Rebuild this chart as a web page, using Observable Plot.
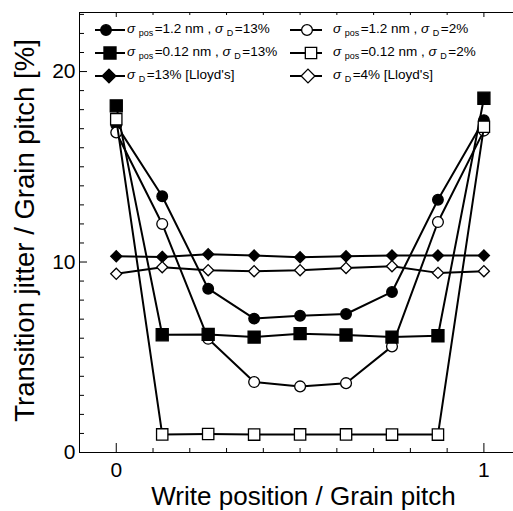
<!DOCTYPE html>
<html><head><meta charset="utf-8">
<script src="https://cdn.jsdelivr.net/npm/d3@7"></script>
<script src="https://cdn.jsdelivr.net/npm/@observablehq/plot@0.6"></script>
<style>html,body{margin:0;padding:0;background:#fff;overflow:hidden}</style>
</head><body><div id="chart"></div>
<script>
// ---- data ----
const positions = [0, 0.125, 0.25, 0.375, 0.5, 0.625, 0.75, 0.875, 1];
const pos12_D13  = [17.2, 13.45, 8.6, 7.03, 7.18, 7.27, 8.43, 13.27, 17.45];
const pos12_D2   = [16.8, 12.0, 5.97, 3.7, 3.47, 3.64, 5.57, 12.1, 16.9];
const pos012_D13 = [18.2, 6.18, 6.2, 6.06, 6.24, 6.17, 6.06, 6.13, 18.6];
const pos012_D2  = [17.5, 0.95, 0.97, 0.94, 0.95, 0.95, 0.94, 0.94, 17.1];
const lloydD13   = [10.3, 10.27, 10.41, 10.34, 10.25, 10.3, 10.34, 10.34, 10.34];
const lloydD4    = [9.38, 9.73, 9.57, 9.52, 9.57, 9.69, 9.78, 9.43, 9.52];
const seriesLabels = [
  "σ_{pos}=1.2 nm , σ_{D}=13%",
  "σ_{pos}=1.2 nm , σ_{D}=2%",
  "σ_{pos}=0.12 nm , σ_{D}=13%",
  "σ_{pos}=0.12 nm , σ_{D}=2%",
  "σ_{D}=13% [Lloyd's]",
  "σ_{D}=4% [Lloyd's]"
];
const xTickValues = [0, 1];
const xMinorTicks = [0.1, 0.2, 0.3, 0.4, 0.5, 0.6, 0.7, 0.8, 0.9];
const yTickValues = [0, 10, 20];
const yMinorTicks = [1,2,3,4,5,6,7,8,9,11,12,13,14,15,16,17,18,19,21,22,23];
const xLabel = "Write position / Grain pitch";
const yLabel = "Transition jitter / Grain pitch [%]";
const xDomain = [-0.1, 1.0805];
const yDomain = [0, 23.1];

// ---- styles ----
const values = [pos12_D13, pos12_D2, pos012_D13, pos012_D2, lloydD13, lloydD4];
const styles = [
  {symbol: "circle",   d3sym: d3.symbolCircle,   fill: "black", r: 5.3, lr: 5.3, col: 0, row: 0, mx: 106},
  {symbol: "circle",   d3sym: d3.symbolCircle,   fill: "white", r: 5.4, lr: 5.4, col: 1, row: 0, mx: 307},
  {symbol: "square",   d3sym: d3.symbolSquare,   fill: "black", r: 6.8, lr: 6.8, col: 0, row: 1, mx: 110},
  {symbol: "square",   d3sym: d3.symbolSquare,   fill: "white", r: 6.4, lr: 6.4, col: 1, row: 1, mx: 311},
  {symbol: "diamond2", d3sym: d3.symbolDiamond2, fill: "black", r: 5.0, lr: 6.2, col: 0, row: 2, mx: 109},
  {symbol: "diamond2", d3sym: d3.symbolDiamond2, fill: "white", r: 5.0, lr: 6.2, col: 1, row: 2, mx: 308}
];
const series = values.map((v, i) => ({
  ...styles[i], label: seriesLabels[i],
  data: positions.map((x, j) => ({x, y: v[j]}))
}));

const W = 513, H = 511, mL = 79, mR = 0, mT = 12, mB = 59;
const plotH = H - mT - mB, plotW = W - mL - mR;
const FONT = "Arial, 'Liberation Sans', Helvetica, sans-serif";

const marks = [];
series.forEach(s => {
  marks.push(Plot.line(s.data, {x: "x", y: "y", stroke: "black", strokeWidth: 2}));
  marks.push(Plot.dot(s.data, {x: "x", y: "y", symbol: () => s.symbol, r: s.r, fill: s.fill, stroke: "black", strokeWidth: 1.3}));
});

const chart = Plot.plot({
  width: W, height: H,
  marginLeft: mL, marginRight: mR, marginTop: mT, marginBottom: mB,
  x: {domain: xDomain},
  y: {domain: yDomain},
  style: {fontFamily: FONT, color: "black", background: "white"},
  marks: [
    // frame lines (left, bottom, top)
    Plot.ruleX([xDomain[0]], {stroke: "black"}),
    Plot.ruleY([yDomain[0]], {stroke: "black"}),
    Plot.ruleY([yDomain[1]], {stroke: "black"}),
    // bottom ticks (inward)
    Plot.tickX(xTickValues, {x: d => d, insetTop: plotH - 9}),
    Plot.tickX(xMinorTicks, {x: d => d, insetTop: plotH - 4}),
    // top ticks (inward)
    Plot.tickX(xTickValues, {x: d => d, insetBottom: plotH - 5}),
    Plot.tickX(xMinorTicks, {x: d => d, insetBottom: plotH - 3}),
    // left ticks (inward)
    Plot.tickY(yTickValues, {y: d => d, insetRight: plotW - 8}),
    Plot.tickY(yMinorTicks, {y: d => d, insetRight: plotW - 5}),
    // tick labels
    Plot.axisX({ticks: xTickValues, tickFormat: d => String(d), tickSize: 0, tickPadding: 10, fontSize: 21, label: null}),
    Plot.axisY({ticks: yTickValues, tickFormat: d => String(d), tickSize: 0, tickPadding: 4, fontSize: 21, label: null}),
    // axis titles
    Plot.text([xLabel], {text: d => d, frameAnchor: "bottom", textAnchor: "middle", lineAnchor: "bottom", dx: 7, dy: 52, fontSize: 26}),
    Plot.text([yLabel], {text: d => d, frameAnchor: "left", textAnchor: "middle", lineAnchor: "bottom", rotate: -90, dx: -46, dy: -2, fontSize: 27.5}),
    ...marks
  ]
});

// ---- legend ----
const svg = d3.select(chart);
const lg = svg.append("g").attr("class", "legend").attr("text-anchor", "start");
const colLine = [[95, 125], [290, 322]];
const colText = [127, 333];
const rowY = [30, 53, 76];
function addLabel(textSel, str) {
  const re = /(σ)|_\{([^}]*)\}|([^σ_]+)/g;
  let m, lowered = false;
  while ((m = re.exec(str))) {
    const t = textSel.append("tspan");
    if (lowered) { t.attr("dy", -3); lowered = false; if (!m[2]) t.attr("dx", 1.5); }
    if (m[1]) t.attr("font-style", "italic").text(m[1]);
    else if (m[2] != null) { t.attr("font-size", 9).attr("dx", 3.5).attr("dy", 3).text(m[2]); lowered = true; }
    else t.text(m[3]);
  }
}
series.forEach(s => {
  const g = lg.append("g").attr("transform", `translate(0,${rowY[s.row]})`);
  g.append("line").attr("x1", colLine[s.col][0]).attr("x2", colLine[s.col][1])
    .attr("y1", 0).attr("y2", 0).attr("stroke", "black").attr("stroke-width", 2);
  g.append("path").attr("d", d3.symbol(s.d3sym, Math.PI * s.lr * s.lr)())
    .attr("transform", `translate(${s.mx},0)`).attr("fill", s.fill)
    .attr("stroke", "black").attr("stroke-width", 1.3);
  const t = g.append("text").attr("x", colText[s.col]).attr("y", 3)
    .attr("text-anchor", "start")
    .attr("font-size", 13.5).attr("font-family", FONT).attr("fill", "black");
  addLabel(t, s.label);
});

document.getElementById("chart").appendChild(chart);
</script>
</body></html>
